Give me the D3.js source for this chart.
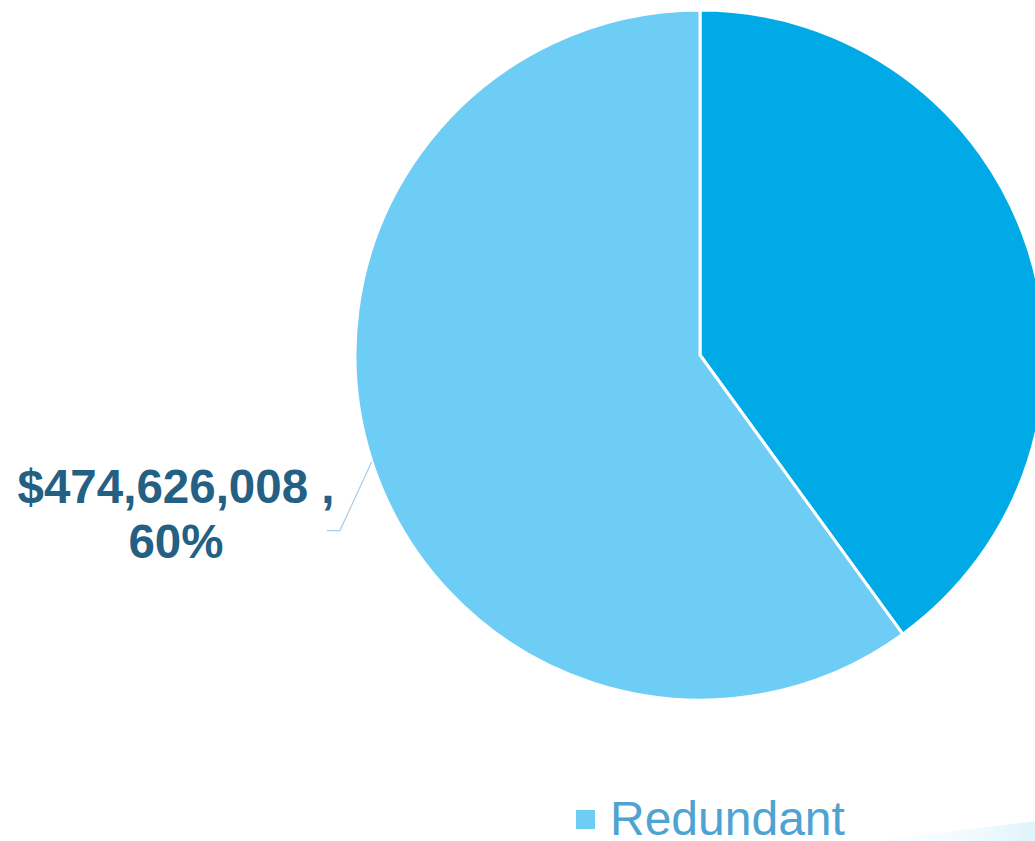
<!DOCTYPE html>
<html>
<head>
<meta charset="utf-8">
<script src="https://cdn.jsdelivr.net/npm/d3@7"></script>
<style>
  html, body { margin: 0; padding: 0; background: #fff; overflow: hidden; }
  svg { display: block; }
</style>
</head>
<body>
<main></main>
<script>
const width = 1035;
const height = 841;

// data
const categories = ['Other', 'Redundant'];
const values = [316417339, 474626008];
const colors = ['#00aae7', '#6dcdf5'];
const labelText = ['$474,626,008 ,', '60%'];
const legendItems = ['Redundant'];

const cx = 700, cy = 355, radius = 345;

const svg = d3.select('main')
  .append('svg')
  .attr('width', width)
  .attr('height', height);

// faint decorative swoosh bottom right
const defs = svg.append('defs');
const grad = defs.append('linearGradient')
  .attr('id', 'swoosh')
  .attr('x1', '0').attr('x2', '1').attr('y1', '0').attr('y2', '0');
grad.append('stop').attr('offset', '0').attr('stop-color', '#eef9fd').attr('stop-opacity', 0);
grad.append('stop').attr('offset', '0.6').attr('stop-color', '#ebf8fd').attr('stop-opacity', 0.7);
grad.append('stop').attr('offset', '1').attr('stop-color', '#e0f4fb').attr('stop-opacity', 1);
svg.append('path')
  .attr('d', 'M870,841 Q965,830 1035,821 L1035,841 Z')
  .attr('fill', 'url(#swoosh)');

const pie = d3.pie().sort(null).value(d => d);
const arcs = pie(values);
const arc = d3.arc().innerRadius(0).outerRadius(radius);

const g = svg.append('g').attr('transform', `translate(${cx},${cy})`);

g.selectAll('path.slice')
  .data(arcs)
  .enter()
  .append('path')
  .attr('class', 'slice')
  .attr('d', arc)
  .attr('fill', (d, i) => colors[i])
  .attr('stroke', '#fff')
  .attr('stroke-width', 3)
  .attr('stroke-linejoin', 'round');

// leader line for the Redundant slice
const lab = arcs[1];
const mid = (lab.startAngle + lab.endAngle) / 2;
const p0 = [cx + radius * Math.sin(mid), cy - radius * Math.cos(mid)];
const p1 = [p0[0] - 32, p0[1] + 69];
const p2 = [p1[0] - 13, p1[1]];
svg.append('polyline')
  .attr('points', [p0, p1, p2].map(p => p.join(',')).join(' '))
  .attr('fill', 'none')
  .attr('stroke', '#a9cde4')
  .attr('stroke-width', 1.2);

const label = svg.append('text')
  .attr('text-anchor', 'middle')
  .attr('font-family', 'Liberation Sans, Arial, sans-serif')
  .attr('font-weight', 'bold')
  .attr('font-size', 47.5)
  .attr('fill', '#245f84');
label.selectAll('tspan')
  .data(labelText)
  .enter()
  .append('tspan')
  .attr('x', 176)
  .attr('y', (d, i) => 503 + i * 55)
  .text(d => d);

// legend
const legend = svg.append('g').attr('transform', 'translate(576,810)');
legend.selectAll('rect')
  .data(legendItems)
  .enter()
  .append('rect')
  .attr('x', 0)
  .attr('y', 0)
  .attr('width', 19)
  .attr('height', 19)
  .attr('fill', colors[1]);
legend.selectAll('text')
  .data(legendItems)
  .enter()
  .append('text')
  .attr('x', 34)
  .attr('y', 25)
  .attr('font-family', 'Liberation Sans, Arial, sans-serif')
  .attr('font-size', 48)
  .attr('fill', '#4fa3d2')
  .text(d => d);
</script>
</body>
</html>
